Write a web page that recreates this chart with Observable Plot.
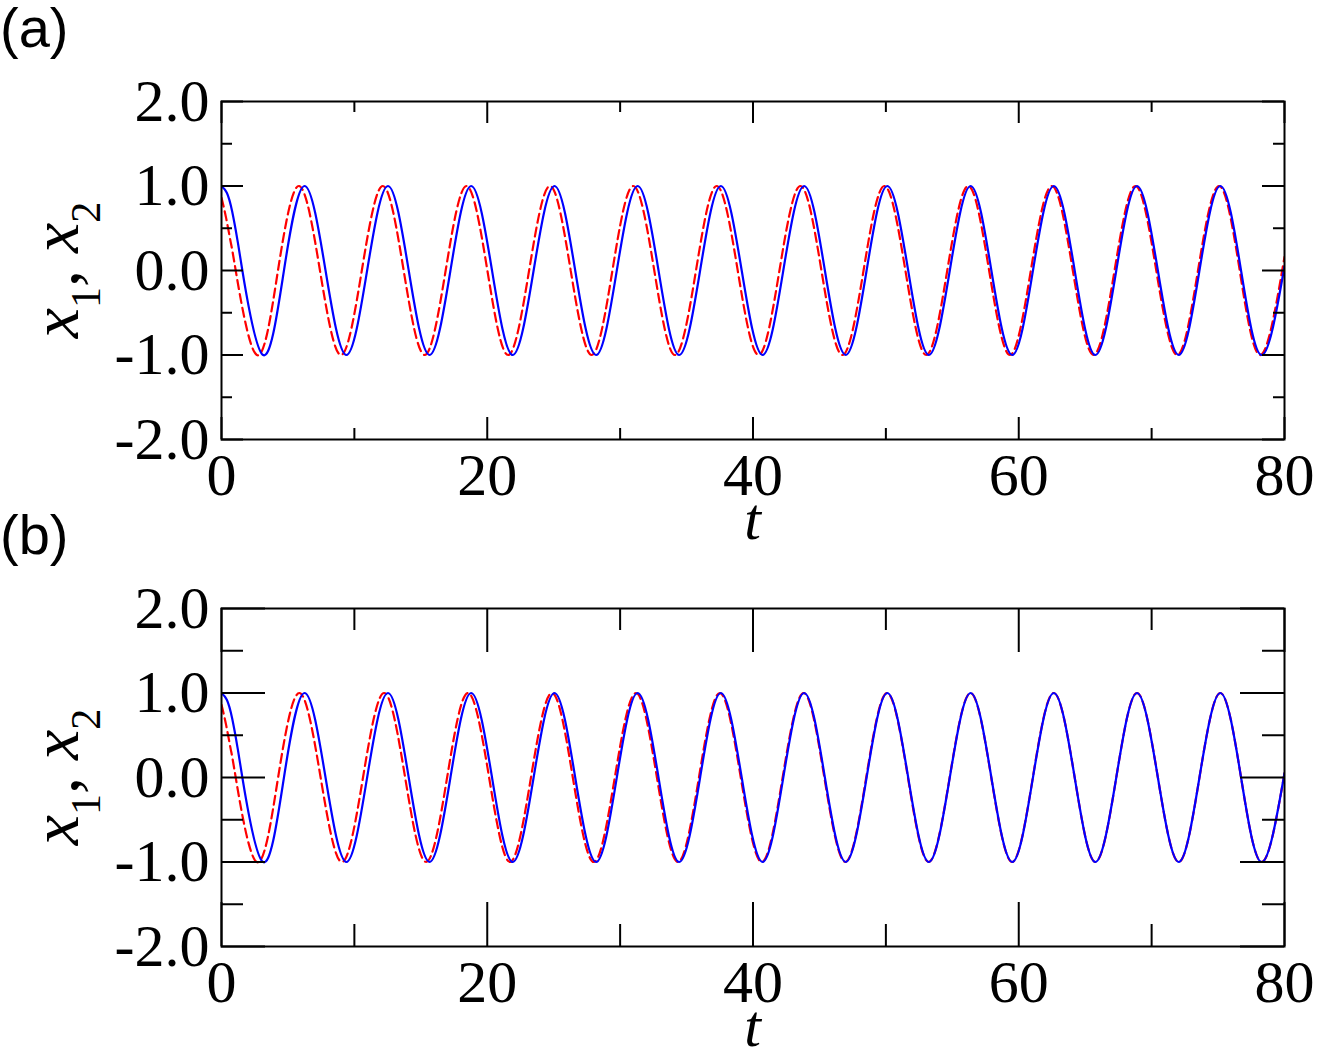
<!DOCTYPE html>
<html>
<head>
<meta charset="utf-8">
<script src="https://cdn.jsdelivr.net/npm/d3@7"></script>
<script src="https://cdn.jsdelivr.net/npm/@observablehq/plot@0.6"></script>
<style>
  body { margin: 0; background: #fff; }
  #chart { width: 1317px; height: 1050px; overflow: hidden; }
  #chart svg { display: block; }
</style>
</head>
<body>
<div id="chart"></div>
<script>
// ---- data (times of peaks / zero crossings / troughs) ----
const tBlue = [0, 0.40, 0.80, 1.20, 1.57, 3.13, 4.70, 6.26, 7.83, 9.40, 10.96, 12.53, 14.09, 15.66, 17.23, 18.79, 20.36, 21.92, 23.49, 25.06, 26.62, 28.19, 29.75, 31.32, 32.89, 34.45, 36.02, 37.58, 39.15, 40.72, 42.28, 43.85, 45.41, 46.98, 48.55, 50.11, 51.68, 53.24, 54.81, 56.38, 57.94, 59.51, 61.07, 62.64, 64.21, 65.77, 67.34, 68.90, 70.47, 72.04, 73.60, 75.17, 76.73, 78.30, 80];
const xBlue = [1, 0.92, 0.70, 0.36, 0,-1,0, 1,0,-1,0, 1,0,-1,0, 1,0,-1,0, 1,0,-1,0, 1,0,-1,0, 1,0,-1,0, 1,0,-1,0, 1,0,-1,0, 1,0,-1,0, 1,0,-1,0, 1,0,-1,0, 1,0,-1, 0.05];

const tRedA = [0, 0.35, 0.70, 1.07, 2.66, 4.25, 5.83, 7.41, 8.99, 10.56, 12.14, 13.71, 15.29, 16.87, 18.44, 20.01, 21.57, 23.15, 24.72, 26.28, 27.86, 29.42, 30.99, 32.57, 34.13, 35.71, 37.27, 38.85, 40.42, 41.99, 43.57, 45.15, 46.73, 48.32, 49.89, 51.47, 53.04, 54.62, 56.20, 57.77, 59.34, 60.91, 62.49, 64.07, 65.63, 67.21, 68.78, 70.35, 71.93, 73.49, 75.07, 76.63, 78.21, 80];
const xRedA = [0.86, 0.62, 0.33, 0,-1,0,1, 0,-1,0,1, 0,-1,0,1, 0,-1,0,1, 0,-1,0,1, 0,-1,0,1, 0,-1,0,1, 0,-1,0,1, 0,-1,0,1, 0,-1,0,1, 0,-1,0,1, 0,-1,0,1, 0,-1, 0.16];

const tRedB = [0, 0.35, 0.70, 1.07, 2.65, 4.26, 5.86, 7.46, 9.06, 10.65, 12.24, 13.82, 15.40, 16.98, 18.55, 20.14, 21.71, 23.29, 24.87, 26.44, 28.02, 29.60, 31.19, 32.77, 34.35, 35.93, 37.50, 39.08, 40.66, 42.23, 43.81, 45.37, 46.95, 48.52, 50.09, 51.66, 53.22, 54.80, 56.37, 57.93, 59.50, 61.06, 62.63, 64.21, 65.77, 67.34, 68.90, 70.47, 72.04, 73.60, 75.17, 76.73, 78.30, 80];
const xRedB = [0.86, 0.62, 0.33, 0,-1,0,1, 0,-1,0,1, 0,-1,0,1, 0,-1,0,1, 0,-1,0,1, 0,-1,0,1, 0,-1,0,1, 0,-1,0,1, 0,-1,0,1, 0,-1,0,1, 0,-1,0,1, 0,-1,0,1, 0,-1, 0.05];

const xMajor = [0, 20, 40, 60, 80];
const xMinor = [10, 30, 50, 70];
const yMajor = [-2, -1, 0, 1, 2];
const yMinor = [-1.5, -0.5, 0.5, 1.5];
const panelLetters = ["(a)", "(b)"];

// ---- layout ----
const W = 1317, ML = 221, MR = 33, MT = 101;
const serif = "'Liberation Serif', 'Times New Roman', Times, serif";
const sans = "'Liberation Sans', Arial, Helvetica, sans-serif";

const toRows = (ts, vs) => ts.map((t, i) => ({t, v: vs[i]}));

function panel({letter, red, blue, height, marginBottom, majorLen, minorLen}) {
  const innerW = W - ML - MR;
  const innerH = height - MT - marginBottom;
  const tickMarks = (len, xs, ys) => [
    Plot.ruleX(xs, {x: d => d, insetTop: innerH - len, strokeWidth: 2}),
    Plot.ruleX(xs, {x: d => d, insetBottom: innerH - len, strokeWidth: 2}),
    Plot.ruleY(ys, {y: d => d, insetRight: innerW - len, strokeWidth: 2}),
    Plot.ruleY(ys, {y: d => d, insetLeft: innerW - len, strokeWidth: 2})
  ];
  const svg = Plot.plot({
    width: W, height,
    marginLeft: ML, marginRight: MR, marginTop: MT, marginBottom,
    style: {fontFamily: serif, fontSize: "60px", color: "black", background: "white", overflow: "visible"},
    x: {domain: [0, 80], label: null},
    y: {domain: [-2, 2], label: null},
    marks: [
      Plot.line(red, {x: "t", y: "v", curve: "natural", stroke: "#ff0000", strokeWidth: 2.2, strokeDasharray: "9,5", clip: true}),
      Plot.line(blue, {x: "t", y: "v", curve: "natural", stroke: "#0000ff", strokeWidth: 2.2, clip: true}),
      ...tickMarks(majorLen, xMajor, yMajor),
      ...tickMarks(minorLen, xMinor, yMinor),
      Plot.frame({strokeWidth: 2}),
      Plot.axisX(xMajor, {tickSize: 0, tickPadding: 13, tickFormat: d => String(d), label: null, fontSize: 60}),
      Plot.axisY(yMajor, {tickSize: 0, tickPadding: 12, tickFormat: d => d.toFixed(1), label: null, fontSize: 60})
    ]
  });
  const s = d3.select(svg);
  s.append("text")
    .attr("x", 0).attr("y", 47)
    .attr("text-anchor", "start")
    .attr("font-family", sans).attr("font-size", 56)
    .attr("fill", "black")
    .text(letter);
  const yl = s.append("text")
    .attr("transform", `translate(78,${MT + innerH / 2}) rotate(-90)`)
    .attr("text-anchor", "middle")
    .attr("font-family", serif).attr("font-size", 68).attr("fill", "black");
  yl.append("tspan").attr("font-style", "italic").text("x");
  yl.append("tspan").attr("font-size", 42).attr("dy", 22).text("1");
  yl.append("tspan").attr("dy", -22).text(", ");
  yl.append("tspan").attr("font-style", "italic").text("x");
  yl.append("tspan").attr("font-size", 42).attr("dy", 22).text("2");
  s.append("text")
    .attr("x", ML + innerW / 2).attr("y", MT + innerH + 100)
    .attr("text-anchor", "middle")
    .attr("font-family", serif).attr("font-style", "italic").attr("font-size", 60)
    .attr("fill", "black")
    .text("t");
  return svg;
}

const chart = document.getElementById("chart");
chart.appendChild(panel({letter: panelLetters[0], red: toRows(tRedA, xRedA), blue: toRows(tBlue, xBlue), height: 507, marginBottom: 68, majorLen: 22, minorLen: 11}));
chart.appendChild(panel({letter: panelLetters[1], red: toRows(tRedB, xRedB), blue: toRows(tBlue, xBlue), height: 543, marginBottom: 104, majorLen: 44, minorLen: 22}));
</script>
</body>
</html>
